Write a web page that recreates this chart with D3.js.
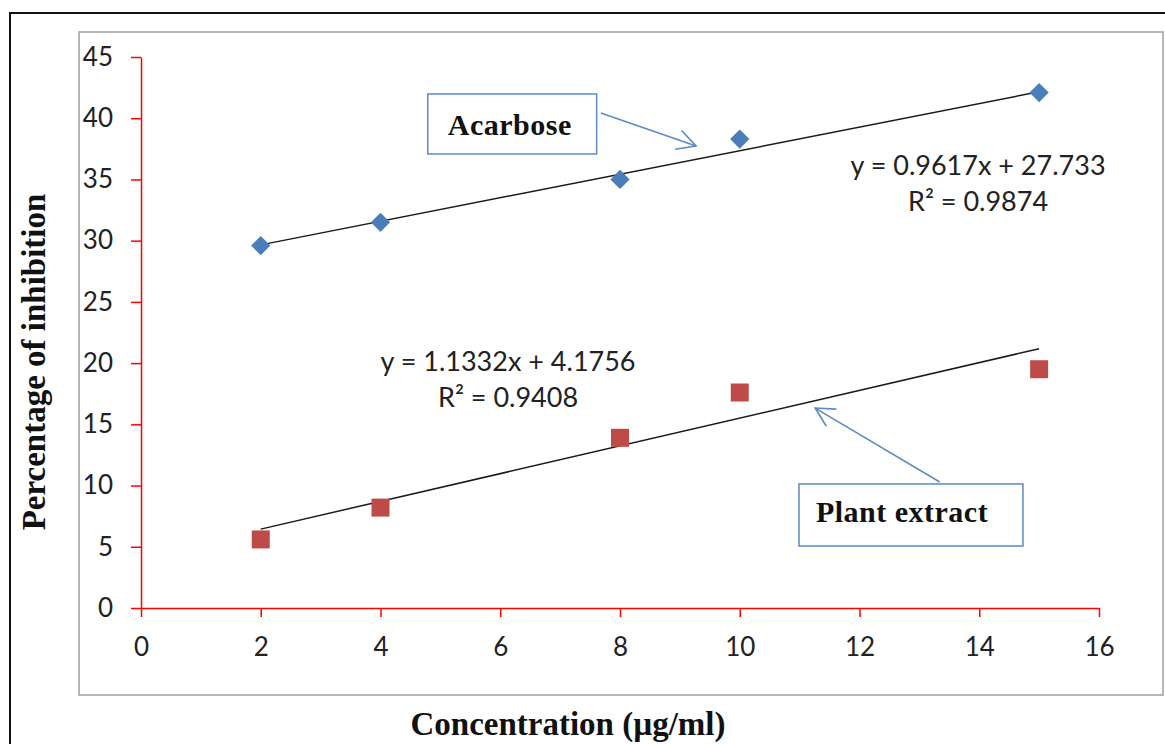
<!DOCTYPE html>
<html>
<head>
<meta charset="utf-8">
<script src="https://cdn.jsdelivr.net/npm/d3@7"></script>
<style>
  body { margin: 0; background: #fff; }
  .tick text { font-family: Lato, "Open Sans", sans-serif; font-size: 26px; fill: #222; }
</style>
</head>
<body>
<div id="chart"></div>
<script>
// values
var concentrations = [2, 4, 8, 10, 15];
var acarbose = [29.6, 31.5, 35.0, 38.3, 42.1];
var plantExtract = [5.6, 8.2, 13.9, 17.6, 19.5];
var xTicks = [0, 2, 4, 6, 8, 10, 12, 14, 16];
var yTicks = [0, 5, 10, 15, 20, 25, 30, 35, 40, 45];
// linear trend lines as printed on the chart
var trendSlopes = [0.9617, 1.1332];
var trendIntercepts = [27.733, 4.1756];
var trendLabels = [["y = 0.9617x + 27.733", "R² = 0.9874"], ["y = 1.1332x + 4.1756", "R² = 0.9408"]];

var W = 1165, H = 744;
var blue = "#4a7ebb", red = "#be4b48", callout = "#5b8ac6";

var svg = d3.select("#chart").append("svg")
    .attr("width", W)
    .attr("height", H);

// outer frame and chart area frame
svg.append("rect")
    .attr("x", 10).attr("y", 13)
    .attr("width", W + 20).attr("height", H + 20)
    .style("fill", "none").style("stroke", "#111").style("stroke-width", 2);
svg.append("rect")
    .attr("x", 79).attr("y", 32)
    .attr("width", 1084).attr("height", 663)
    .style("fill", "none").style("stroke", "#a0a0a0").style("stroke-width", 1.5);

var x = d3.scaleLinear().domain([0, 16]).range([141, 1099]);
var y = d3.scaleLinear().domain([0, 45]).range([608, 57]);

var xAxis = svg.append("g")
    .attr("transform", "translate(0," + y(0) + ")")
    .call(d3.axisBottom(x).tickValues(xTicks).tickSize(9).tickPadding(14).tickSizeOuter(0));
var yAxis = svg.append("g")
    .attr("transform", "translate(" + x(0) + ",0)")
    .call(d3.axisLeft(y).tickValues(yTicks).tickSize(10).tickPadding(18).tickSizeOuter(0));
[xAxis, yAxis].forEach(function(a){
    a.selectAll(".domain, .tick line").style("stroke", "#ff0000").style("stroke-width", 1.5);
});
xAxis.selectAll(".tick text").attr("dy", "0.95em");

// trend lines
var series = [acarbose, plantExtract];
series.forEach(function(vals, s){
    var x0 = d3.min(concentrations), x1 = d3.max(concentrations);
    svg.append("line")
        .attr("x1", x(x0)).attr("y1", y(trendIntercepts[s] + trendSlopes[s] * x0))
        .attr("x2", x(x1)).attr("y2", y(trendIntercepts[s] + trendSlopes[s] * x1))
        .style("stroke", "#1a1a1a").style("stroke-width", 1.5);
});

// markers
svg.selectAll(".diamond")
    .data(acarbose)
    .enter().append("path")
    .attr("class", "diamond")
    .attr("d", d3.symbol(d3.symbolSquare, 185))
    .attr("transform", function(d, i){ return "translate(" + x(concentrations[i]) + "," + y(d) + ") rotate(45)"; })
    .style("fill", blue);
svg.selectAll(".square")
    .data(plantExtract)
    .enter().append("path")
    .attr("class", "square")
    .attr("d", d3.symbol(d3.symbolSquare, 324))
    .attr("transform", function(d, i){ return "translate(" + x(concentrations[i]) + "," + y(d) + ")"; })
    .style("fill", red);

// trend equations
var eqPos = [{cx: 13.98, cy: 35.36}, {cx: 6.13, cy: 19.36}];
trendLabels.forEach(function(lines, s){
    svg.append("text")
        .attr("text-anchor", "middle")
        .style("font-family", "Lato, 'Open Sans', sans-serif")
        .style("font-size", "27px")
        .style("fill", "#222")
        .selectAll("tspan")
        .data(lines)
        .enter().append("tspan")
        .attr("x", x(eqPos[s].cx))
        .attr("y", function(d, i){ return y(eqPos[s].cy) + i * 36; })
        .text(function(d){ return d; });
});

// callout boxes with arrows
svg.append("defs").append("marker")
    .attr("id", "arrow")
    .attr("markerUnits", "userSpaceOnUse")
    .attr("viewBox", "0 0 20 20")
    .attr("refX", 19).attr("refY", 10)
    .attr("markerWidth", 22).attr("markerHeight", 22)
    .attr("orient", "auto")
    .append("path")
    .attr("d", "M2,1 L19,10 L2,19")
    .style("fill", "none").style("stroke", callout).style("stroke-width", 1.5);

var callouts = [
    {name: "Acarbose", x0: 4.79, x1: 7.61, y0: 41.98, y1: 37.08, tx: 6.16, ty: 38.63,
     from: [7.68, 40.43], to: [9.27, 37.73]},
    {name: "Plant extract", x0: 10.99, x1: 14.73, y0: 10.13, y1: 5.06, tx: 12.71, ty: 7.02,
     from: [13.34, 10.29], to: [11.26, 16.33]}
];
callouts.forEach(function(c){
    svg.append("rect")
        .attr("x", x(c.x0)).attr("y", y(c.y0))
        .attr("width", x(c.x1) - x(c.x0)).attr("height", y(c.y1) - y(c.y0))
        .style("fill", "#fff").style("stroke", callout).style("stroke-width", 1.5);
    svg.append("text")
        .attr("x", x(c.tx)).attr("y", y(c.ty))
        .attr("text-anchor", "middle")
        .style("font-family", "'Liberation Serif', 'Times New Roman', serif")
        .style("font-weight", "bold")
        .style("font-size", "30px")
        .style("letter-spacing", "0.5px")
        .style("fill", "#111")
        .text(c.name);
    svg.append("line")
        .attr("x1", x(c.from[0])).attr("y1", y(c.from[1]))
        .attr("x2", x(c.to[0])).attr("y2", y(c.to[1]))
        .attr("marker-end", "url(#arrow)")
        .style("stroke", callout).style("stroke-width", 1.5);
});

// axis titles
svg.append("text")
    .attr("x", 568).attr("y", 735)
    .attr("text-anchor", "middle")
    .style("font-family", "'Liberation Serif', 'Times New Roman', serif")
    .style("font-weight", "bold")
    .style("font-size", "33px")
    .style("fill", "#111")
    .text("Concentration (µg/ml)");
svg.append("text")
    .attr("transform", "translate(45,362) rotate(-90)")
    .attr("text-anchor", "middle")
    .style("font-family", "'Liberation Serif', 'Times New Roman', serif")
    .style("font-weight", "bold")
    .style("font-size", "33px")
    .style("fill", "#111")
    .text("Percentage of inhibition");
</script>
</body>
</html>
